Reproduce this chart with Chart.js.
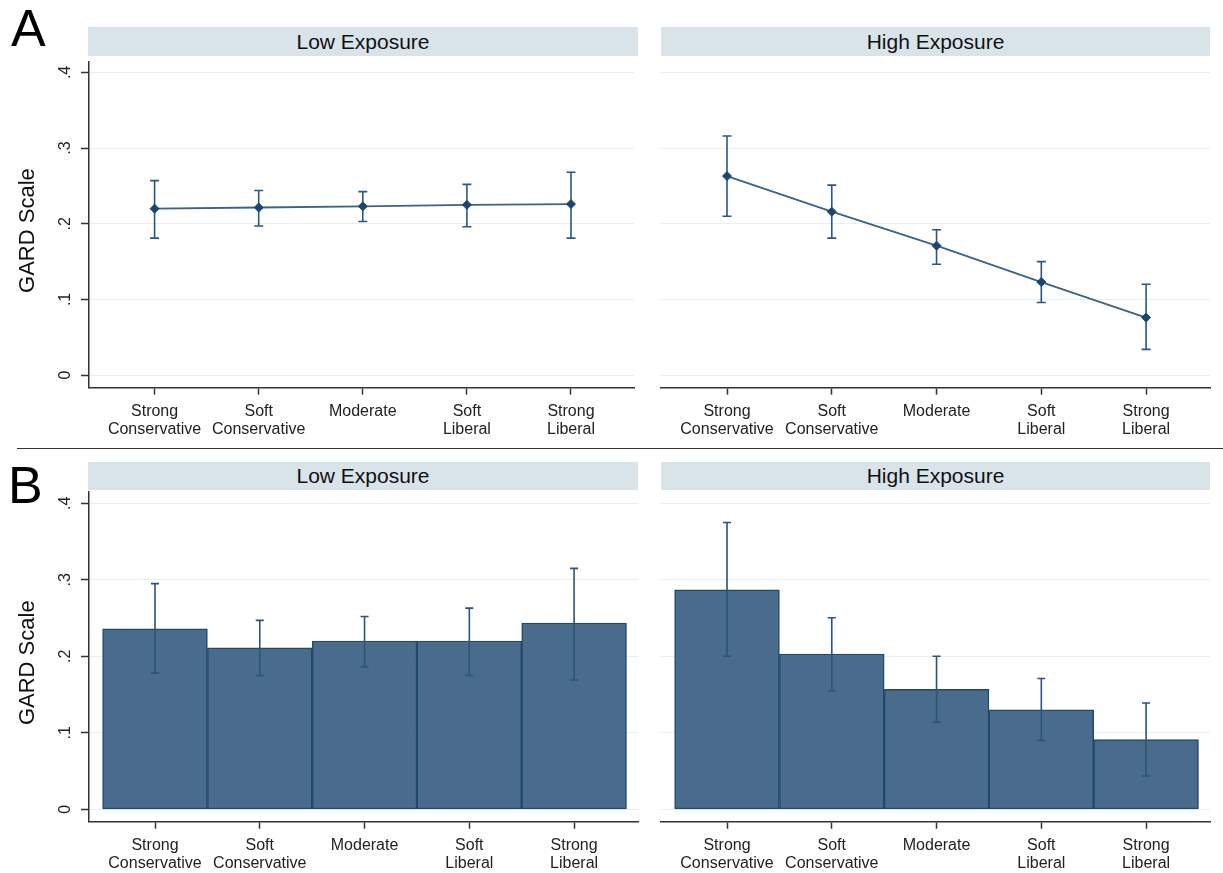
<!DOCTYPE html>
<html>
<head>
<meta charset="utf-8">
<script src="https://cdn.jsdelivr.net/npm/chart.js@4.4.1/dist/chart.umd.min.js"></script>
<style>
  body { margin: 0; background: #fff; width: 1223px; height: 873px; position: relative; overflow: hidden;
         font-family: 'Liberation Sans', Arial, sans-serif; }
  canvas { position: absolute; }
  .strip { position: absolute; background: #d9e4ea; color: #111; font-size: 21px; text-align: center; }
  .letter { position: absolute; font-size: 52px; line-height: 52px; color: #000; }
  #sep { position: absolute; left: 17px; top: 448px; width: 1206px; border-top: 1.5px solid #333; }
</style>
</head>
<body>
<div class="letter" style="left:11px; top:2px;">A</div>
<div class="letter" style="left:8px; top:459px;">B</div>
<div id="sep"></div>

<div class="strip" style="left:88px; top:27px; width:550px; height:29px; line-height:29px;">Low Exposure</div>
<div class="strip" style="left:661px; top:27px; width:549px; height:29px; line-height:29px;">High Exposure</div>
<div class="strip" style="left:88px; top:462px; width:550px; height:28px; line-height:28px;">Low Exposure</div>
<div class="strip" style="left:661px; top:462px; width:549px; height:28px; line-height:28px;">High Exposure</div>

<canvas id="lowLine" width="640" height="390" style="left:0; top:56px;"></canvas>
<canvas id="highLine" width="583" height="390" style="left:640px; top:56px;"></canvas>
<canvas id="lowBar" width="640" height="383" style="left:0; top:490px;"></canvas>
<canvas id="highBar" width="583" height="383" style="left:640px; top:490px;"></canvas>

<script>
// categories and tick labels
const categories = [['Strong', 'Conservative'], ['Soft', 'Conservative'], ['Moderate'], ['Soft', 'Liberal'], ['Strong', 'Liberal']];
const yTickVals = [0, 0.1, 0.2, 0.3, 0.4];
const yTickText = ['0', '.1', '.2', '.3', '.4'];

// panel A (means with CIs)
const lowLineMean = [0.220, 0.2215, 0.223, 0.225, 0.226];
const lowLineLo   = [0.181, 0.197, 0.203, 0.196, 0.181];
const lowLineHi   = [0.257, 0.244, 0.2425, 0.252, 0.268];
const highLineMean = [0.263, 0.216, 0.171, 0.123, 0.076];
const highLineLo   = [0.210, 0.181, 0.1465, 0.096, 0.034];
const highLineHi   = [0.316, 0.251, 0.192, 0.150, 0.120];

// panel B (bars with CIs)
const lowBarMean = [0.236, 0.211, 0.220, 0.220, 0.2435];
const lowBarLo   = [0.178, 0.175, 0.186, 0.175, 0.169];
const lowBarHi   = [0.295, 0.247, 0.252, 0.263, 0.315];
const highBarMean = [0.287, 0.203, 0.157, 0.130, 0.091];
const highBarLo   = [0.200, 0.155, 0.114, 0.090, 0.0435];
const highBarHi   = [0.375, 0.2505, 0.200, 0.171, 0.139];

const FONT = "'Liberation Sans', Arial, sans-serif";
const xMin = -0.63, xMax = 4.61;

const errorBars = {
    id: 'errorBars',
    draw(chart, opts) {
        const x = chart.scales.x, y = chart.scales.y, ctx = chart.ctx;
        ctx.save();
        ctx.strokeStyle = opts.color;
        ctx.lineWidth = 1.6;
        opts.lo.forEach((lo, i) => {
            const px = x.getPixelForValue(i);
            const y1 = y.getPixelForValue(lo), y2 = y.getPixelForValue(opts.hi[i]);
            ctx.beginPath();
            ctx.moveTo(px, y1); ctx.lineTo(px, y2);
            ctx.moveTo(px - opts.cap, y1); ctx.lineTo(px + opts.cap, y1);
            ctx.moveTo(px - opts.cap, y2); ctx.lineTo(px + opts.cap, y2);
            ctx.stroke();
        });
        ctx.restore();
    },
    beforeDatasetsDraw(chart, args, opts) { if (opts.under) this.draw(chart, opts); },
    afterDatasetsDraw(chart, args, opts) { if (!opts.under) this.draw(chart, opts); }
};

// rotated y tick labels and axis title, Stata style
const yLabels = {
    id: 'yLabels',
    afterDraw(chart, args, opts) {
        if (!opts.show) return;
        const y = chart.scales.y, ctx = chart.ctx;
        ctx.save();
        ctx.fillStyle = '#222';
        ctx.textAlign = 'center';
        ctx.textBaseline = 'middle';
        ctx.font = '16px ' + FONT;
        yTickVals.forEach((v, i) => {
            ctx.save();
            ctx.translate(66, y.getPixelForValue(v));
            ctx.rotate(-Math.PI / 2);
            ctx.fillText(yTickText[i], 0, 0);
            ctx.restore();
        });
        ctx.font = '22px ' + FONT;
        ctx.fillStyle = '#111';
        ctx.translate(27.5, (chart.chartArea.top + chart.chartArea.bottom) / 2 + 6);
        ctx.rotate(-Math.PI / 2);
        ctx.fillText('GARD Scale', 0, 0);
        ctx.restore();
    }
};

function panel(id, kind, mean, lo, hi, p) {
    const isBar = kind === 'bar';
    const points = mean.map((v, i) => ({ x: i, y: v }));
    const ds = isBar ? {
        data: points,
        backgroundColor: '#496c8c',
        borderColor: '#1f4a70',
        borderWidth: 1.5,
        borderSkipped: false,
        categoryPercentage: 1,
        barPercentage: 1
    } : {
        data: points,
        borderColor: '#3a6389',
        borderWidth: 1.8,
        tension: 0,
        fill: false,
        pointStyle: 'rectRot',
        pointRadius: 4.5,
        pointBackgroundColor: '#1a476f',
        pointBorderColor: '#1a476f',
        pointBorderWidth: 1
    };
    return new Chart(document.getElementById(id), {
        type: kind,
        data: { datasets: [ds] },
        plugins: [errorBars, yLabels],
        options: {
            responsive: false,
            animation: false,
            layout: { padding: p.pad },
            plugins: {
                legend: { display: false },
                tooltip: { enabled: false },
                errorBars: { lo: lo, hi: hi, cap: p.cap, under: !isBar, color: isBar ? '#2a5479' : '#2c5880' },
                yLabels: { show: p.leftAxis }
            },
            scales: {
                x: {
                    type: 'linear',
                    min: xMin,
                    max: xMax,
                    offset: false,
                    afterBuildTicks: s => { s.ticks = categories.map((c, i) => ({ value: i })); },
                    afterFit: s => { s.height = p.xh; },
                    ticks: {
                        callback: v => categories[v],
                        font: { family: FONT, size: 16, lineHeight: 1.1 },
                        color: '#222',
                        padding: 8,
                        maxRotation: 0,
                        autoSkip: false
                    },
                    grid: { offset: false, drawOnChartArea: false, drawTicks: true, tickLength: 7, tickColor: '#333', tickWidth: 1.5 },
                    border: { display: true, color: '#333', width: 1.5 }
                },
                y: {
                    type: 'linear',
                    min: p.yMin,
                    max: p.yMax,
                    afterBuildTicks: s => { s.ticks = yTickVals.map(v => ({ value: v })); },
                    afterFit: s => { s.width = p.leftAxis ? 89 : 0; },
                    ticks: { display: false },
                    grid: { color: '#e8eff2', lineWidth: 1, drawTicks: p.leftAxis, tickLength: 8, tickColor: '#333', tickWidth: 1.5 },
                    border: { display: p.leftAxis, color: '#333', width: 1.5 }
                }
            }
        }
    });
}

const topRange = { yMin: -0.0166, yMax: 0.4144, xh: 58.3 };
const botRange = { yMin: -0.0162, yMax: 0.4152, xh: 51.3 };

panel('lowLine', 'line', lowLineMean, lowLineLo, lowLineHi,
    Object.assign({ pad: { left: 0, right: 2, top: 2.3, bottom: 0 }, leftAxis: true, cap: 4.5 }, topRange));
panel('highLine', 'line', highLineMean, highLineLo, highLineHi,
    Object.assign({ pad: { left: 21, right: 13, top: 2.3, bottom: 0 }, leftAxis: false, cap: 4.5 }, topRange));
panel('lowBar', 'bar', lowBarMean, lowBarLo, lowBarHi,
    Object.assign({ pad: { left: 0, right: 2, top: 1.7, bottom: 0 }, leftAxis: true, cap: 4 }, botRange));
panel('highBar', 'bar', highBarMean, highBarLo, highBarHi,
    Object.assign({ pad: { left: 21, right: 13, top: 1.7, bottom: 0 }, leftAxis: false, cap: 4 }, botRange));
</script>
</body>
</html>
